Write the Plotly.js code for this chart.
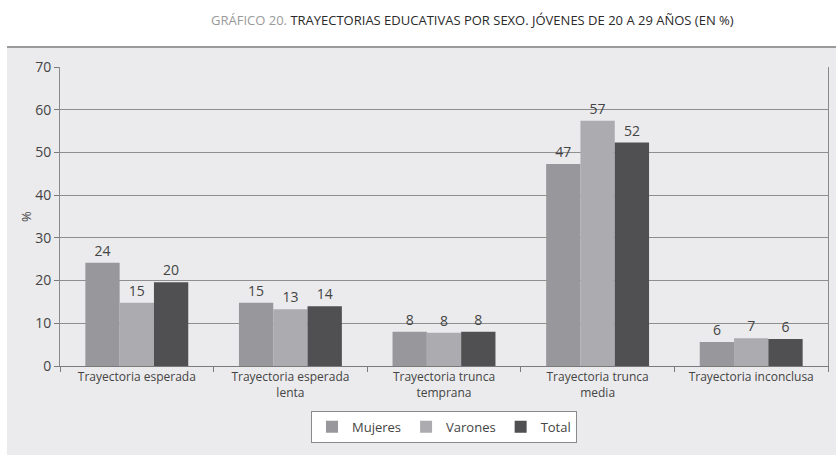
<!DOCTYPE html>
<html><head><meta charset="utf-8">
<script src="https://cdn.plot.ly/plotly-3.0.1.min.js"></script>
<style>html,body{margin:0;padding:0;background:#fff;}#chart{width:836px;height:455px;}</style>
</head><body><div id="chart"></div>
<script>
const categories = ["Trayectoria esperada", "Trayectoria esperada<br>lenta", "Trayectoria trunca<br>temprana", "Trayectoria trunca<br>media", "Trayectoria inconclusa"];
const seriesNames = ["Mujeres", "Varones", "Total"];
const mujeres = [24.2, 14.8, 8.0, 47.3, 5.6];
const varones = [14.8, 13.3, 7.8, 57.4, 6.5];
const total = [19.6, 14.0, 8.0, 52.3, 6.3];
const yTicks = [0, 10, 20, 30, 40, 50, 60, 70];
const colors = ["#98989c", "#acacb0", "#505052"];

const font = "Open Sans, sans-serif";
const traces = [mujeres, varones, total].map((vals, i) => ({
  type: "bar",
  name: seriesNames[i],
  x: categories,
  y: vals,
  text: vals.map(v => String(Math.round(v))),
  textposition: "outside",
  textfont: {family: font, size: 14, color: "#444444"},
  cliponaxis: false,
  marker: {color: colors[i]},
  hoverinfo: "none"
}));

const layout = {
  width: 836, height: 455,
  margin: {l: 60, r: 8, t: 67, b: 89},
  paper_bgcolor: "#ffffff",
  plot_bgcolor: "rgba(0,0,0,0)",
  font: {family: font, color: "#444444"},
  barmode: "group",
  bargap: 0.33,
  bargroupgap: 0,
  showlegend: true,
  title: {
    text: "<span style='color:#9a9a9a'>GRÁFICO 20.</span> TRAYECTORIAS EDUCATIVAS POR SEXO. JÓVENES DE 20 A 29 AÑOS (EN %)",
    font: {family: font, size: 13, color: "#2a2a2a"},
    x: 0.565, xref: "container", xanchor: "center",
    y: 0.955, yref: "container", yanchor: "middle"
  },
  xaxis: {
    type: "category",
    showline: true, linecolor: "#7a7a7a", linewidth: 1,
    ticks: "outside", tickson: "boundaries", ticklen: 5, tickcolor: "#7a7a7a",
    tickfont: {family: font, size: 12, color: "#444444"},
    showgrid: false, zeroline: false
  },
  yaxis: {
    range: [0, 70],
    tickvals: yTicks,
    showline: true, mirror: true, linecolor: "#8a8a8a", linewidth: 1,
    ticks: "outside", ticklen: 5, tickcolor: "#7a7a7a",
    tickfont: {family: font, size: 14, color: "#444444"},
    showgrid: true, gridcolor: "#8e8e8e", gridwidth: 1,
    zeroline: false,
    title: {text: "%", font: {family: font, size: 13, color: "#444444"}, standoff: 0}
  },
  legend: {
    orientation: "h",
    x: 0.5, xanchor: "center", xref: "paper",
    y: -0.15, yanchor: "top",
    bgcolor: "#ffffff", bordercolor: "#8a8a8a", borderwidth: 1,
    font: {family: font, size: 13, color: "#444444"},
    itemwidth: 30
  },
  shapes: [
    {type: "rect", xref: "paper", yref: "paper", x0: -0.069, x1: 1.02, y0: -0.31, y1: 1.067,
     fillcolor: "#ebebed", line: {width: 0}, layer: "below"},
    {type: "line", xref: "paper", yref: "paper", x0: -0.069, x1: 1.02, y0: 1.067, y1: 1.067,
     line: {color: "#9a9a9a", width: 2}, layer: "below"}
  ]
};

Plotly.newPlot("chart", traces, layout, {displayModeBar: false, staticPlot: true});
</script>
</body></html>
